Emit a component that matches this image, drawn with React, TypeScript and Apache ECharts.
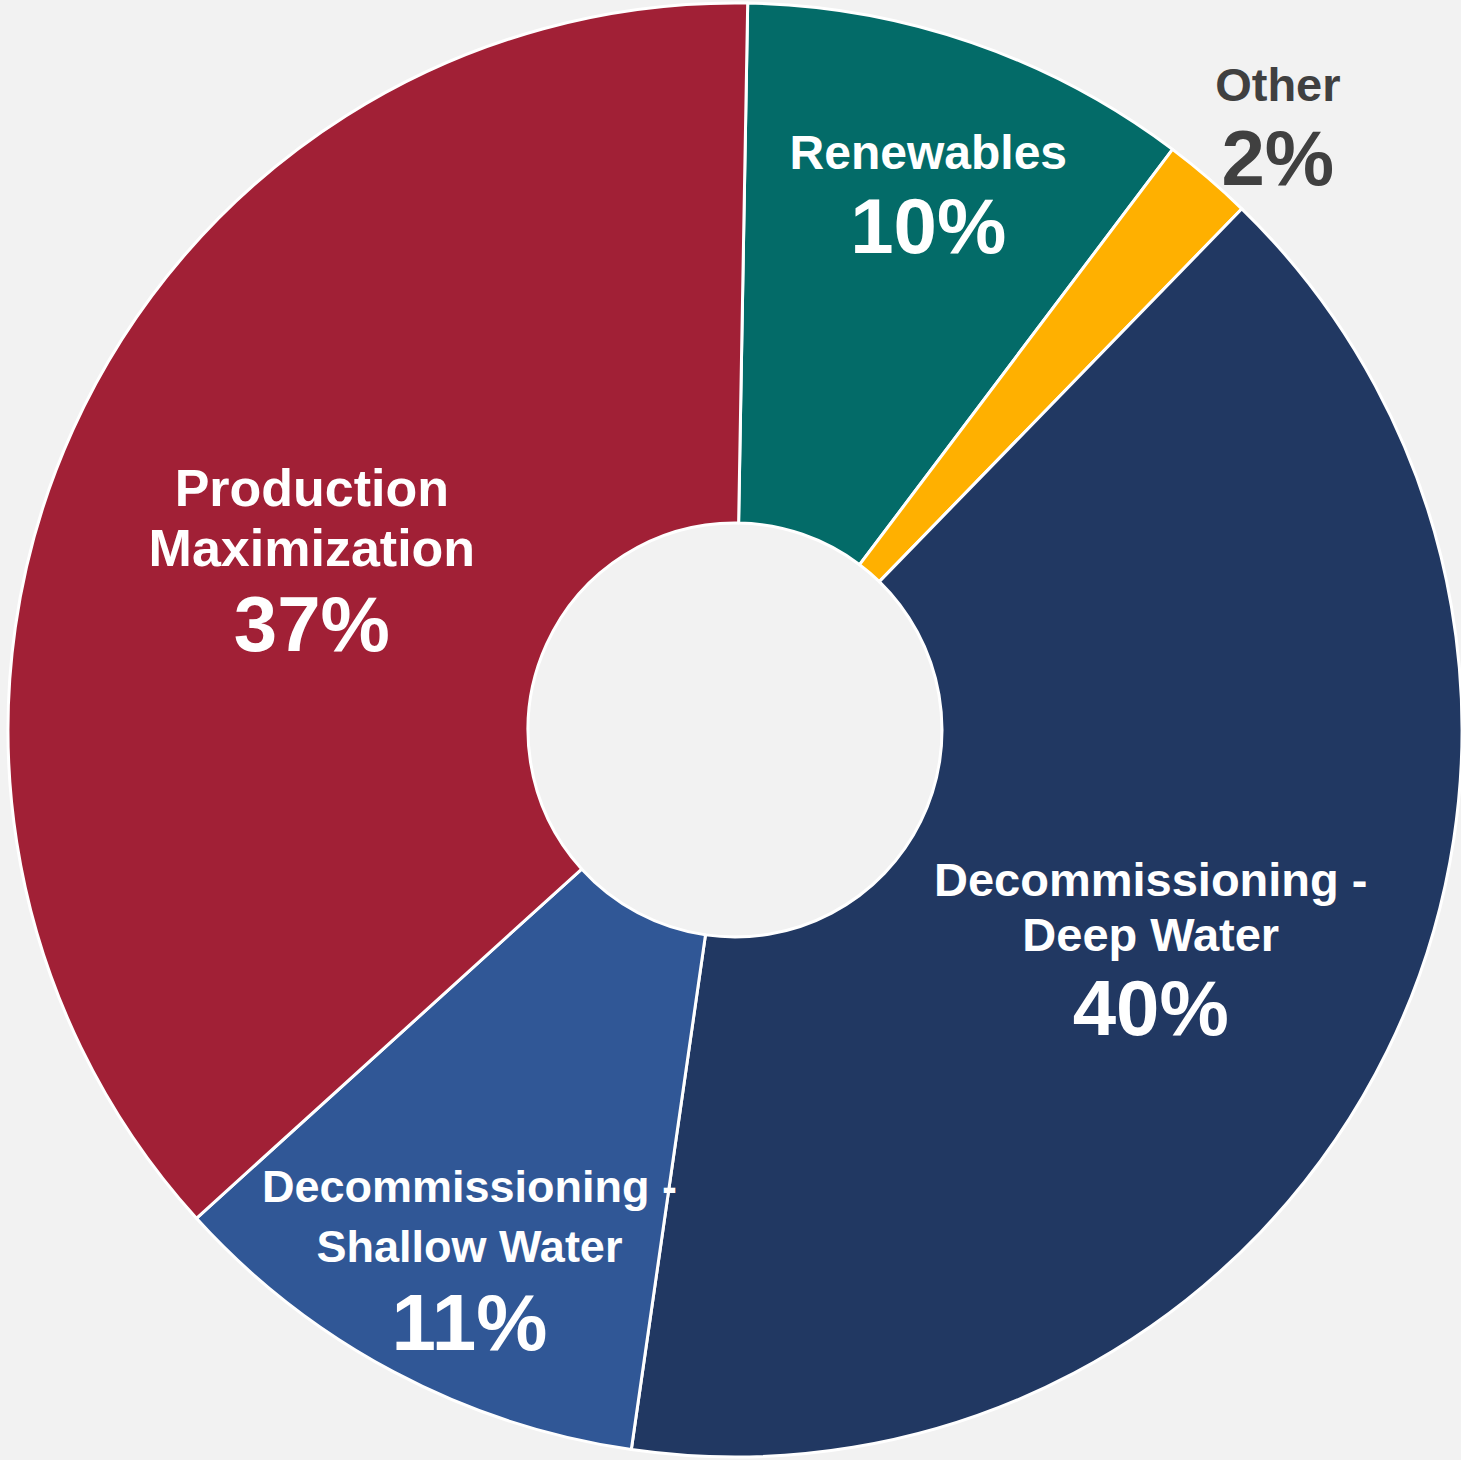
import React, { useEffect, useRef } from "react";
import * as echarts from "echarts";

const categories = [
  "Renewables",
  "Other",
  "Decommissioning -\nDeep Water",
  "Decommissioning -\nShallow Water",
  "Production\nMaximization",
];
const values = [10, 2, 40, 11, 37];
const colors = ["#036B68", "#FFB000", "#213862", "#305796", "#A12036"];
const labelColors = ["#FFFFFF", "#404040", "#FFFFFF", "#FFFFFF", "#FFFFFF"];
// label styling / placement per slice
const nameSizes = [48, 47, 47, 45, 52];
const nameLineHeights = [55, 55, 55, 60, 60];
const pctSizes = [78, 78, 78, 80, 78];
const labelRadius = [567, 810, 471, 596, 455];
const labelAngleShift = [1, 1.6, 2, -1.5, -3];

const W = 1461;
const H = 1460;
const CX = 735;
const CY = 730;

export default function App() {
  const ref = useRef<HTMLDivElement>(null);
  useEffect(() => {
    if (!ref.current) return;
    const chart = echarts.init(ref.current, null, { renderer: "svg" });
    const font = "'Liberation Sans', Arial, Helvetica, sans-serif";
    chart.setOption({
      animation: false,
      backgroundColor: "#F2F2F2",
      series: [
        {
          type: "pie",
          center: [CX, CY],
          radius: [207, 727],
          startAngle: 89,
          clockwise: true,
          avoidLabelOverlap: false,
          itemStyle: { borderColor: "#FFFFFF", borderWidth: 3 },
          labelLine: { show: false },
          label: {
            show: true,
            position: "inside",
            fontFamily: font,
            formatter: (p: any) => `{n|${p.name}}\n{p|${Math.round(p.percent)}%}`,
          },
          labelLayout: (params: any) => {
            const i = params.dataIndex;
            const r = params.labelRect;
            const lx = r.x + r.width / 2;
            const ly = r.y + r.height / 2;
            const ang = Math.atan2(lx - CX, CY - ly) + (labelAngleShift[i] * Math.PI) / 180;
            const tx = CX + labelRadius[i] * Math.sin(ang);
            const ty = CY - labelRadius[i] * Math.cos(ang);
            return { dx: tx - lx, dy: ty - ly };
          },
          data: categories.map((name, i) => ({
            name,
            value: values[i],
            itemStyle: { color: colors[i] },
            label: {
              color: labelColors[i],
              rich: {
                n: {
                  color: labelColors[i],
                  fontSize: nameSizes[i],
                  fontWeight: "bold",
                  lineHeight: nameLineHeights[i],
                  fontFamily: font,
                  align: "center",
                },
                p: {
                  color: labelColors[i],
                  fontSize: pctSizes[i],
                  fontWeight: "bold",
                  lineHeight: 92,
                  fontFamily: font,
                  align: "center",
                },
              },
            },
          })),
        },
      ],
    });
    return () => chart.dispose();
  }, []);
  return (
    <div
      ref={ref}
      style={{ position: "fixed", left: 0, top: 0, width: W, height: H }}
    />
  );
}
